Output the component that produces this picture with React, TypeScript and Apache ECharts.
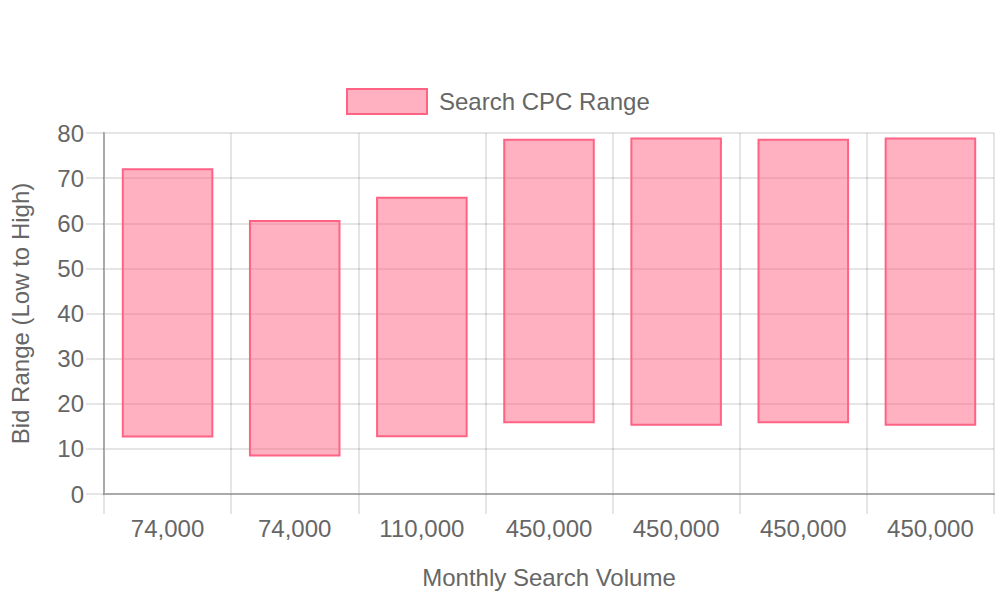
import React, { useEffect, useRef } from "react";
import * as echarts from "echarts";

const categories = ["74,000", "74,000", "110,000", "450,000", "450,000", "450,000", "450,000"];
const lowBids = [12.5, 8.3, 12.6, 15.7, 15.1, 15.7, 15.1];
const highBids = [72.2, 60.7, 65.9, 78.7, 79.0, 78.7, 79.0];
const yTicks = { min: 0, max: 80, interval: 10 };
const seriesName = "Search CPC Range";

export default function App() {
  const ref = useRef<HTMLDivElement>(null);
  useEffect(() => {
    if (!ref.current) return;
    const chart = echarts.init(ref.current, null, { renderer: "svg" });
    const font = "'Liberation Sans', Arial, sans-serif";
    const gridColor = "rgba(0,0,0,0.1)";
    const axisColor = "#aaaaaa";
    chart.setOption({
      animation: false,
      textStyle: { fontFamily: font },
      legend: {
        data: [seriesName],
        top: 88,
        left: 346,
        padding: 0,
        icon: "rect",
        itemWidth: 80,
        itemHeight: 25,
        textStyle: { fontSize: 24, color: "#666", fontFamily: font, padding: [0, 0, 0, 7] },
      },
      grid: { left: 104, right: 6, top: 133, bottom: 106 },
      xAxis: {
        type: "category",
        data: categories,
        name: "Monthly Search Volume",
        nameLocation: "middle",
        nameGap: 71,
        nameTextStyle: { fontSize: 24, color: "#666", fontFamily: font },
        axisLine: { show: true, lineStyle: { color: axisColor, width: 2 } },
        axisTick: { show: true, length: 20, lineStyle: { color: gridColor, width: 2 } },
        axisLabel: { fontSize: 24, color: "#666", margin: 22, fontFamily: font },
        splitLine: { show: true, lineStyle: { color: gridColor, width: 2 } },
      },
      yAxis: {
        type: "value",
        min: yTicks.min,
        max: yTicks.max,
        interval: yTicks.interval,
        name: "Bid Range (Low to High)",
        nameLocation: "middle",
        nameGap: 72,
        nameTextStyle: { fontSize: 24, color: "#666", fontFamily: font },
        axisLine: { show: true, lineStyle: { color: axisColor, width: 2 } },
        axisTick: { show: true, length: 18, lineStyle: { color: gridColor, width: 2 } },
        axisLabel: { fontSize: 24, color: "#666", margin: 20, fontFamily: font },
        splitLine: { show: true, lineStyle: { color: gridColor, width: 2 } },
      },
      series: [
        {
          name: "base",
          type: "bar",
          stack: "range",
          barWidth: "72%",
          data: lowBids,
          itemStyle: { color: "transparent", borderWidth: 0 },
          silent: true,
        },
        {
          name: seriesName,
          type: "bar",
          stack: "range",
          barWidth: "72%",
          data: highBids.map((h, i) => +(h - lowBids[i]).toFixed(2)),
          itemStyle: {
            color: "rgba(255,99,132,0.5)",
            borderColor: "rgb(255,99,132)",
            borderWidth: 2,
          },
        },
      ],
    });
    return () => chart.dispose();
  }, []);
  return <div ref={ref} style={{ width: 1000, height: 600, position: "absolute", left: 0, top: 0 }} />;
}
